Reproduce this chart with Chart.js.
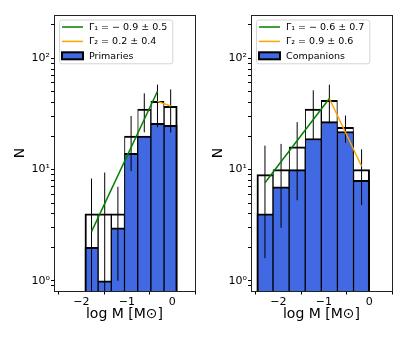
<!DOCTYPE html>
<html>
<head>
<meta charset="utf-8">
<script src="https://cdn.jsdelivr.net/npm/chart.js@4.4.1/dist/chart.umd.min.js"></script>
<style>
  html, body { margin: 0; padding: 0; background: #fff; }
  #wrap { position: relative; width: 407px; height: 339px; }
  canvas { position: absolute; top: 0; }
  #left { left: 0; }
  #right { left: 200px; }
</style>
</head>
<body>
<div id="wrap">
  <canvas id="left" width="200" height="339"></canvas>
  <canvas id="right" width="207" height="339"></canvas>
</div>
<script>
// axes limits and ticks (shared by both panels)
const xMin = -2.6, xMax = 0.5;
const yMin = 0.81, yMax = 245;
const xTicks = [-2, -1, 0];
const yMajor = [1, 10, 100];

// left panel: primaries
const leftEdges = [-1.92, -1.63, -1.34, -1.05, -0.76, -0.47, -0.18, 0.11];
const leftTotal = [4, 4, 4, 20, 35, 41, 37];
const leftPrimaries = [2, 1, 3, 14, 20, 26, 25];
const leftErr = [4.3, 5.4, 3, 10.3, 13.4, 17, 15.5];
const leftFit1X = [-1.775, -0.325], leftFit1Y = [2.77, 50.6];
const leftFit2X = [-0.325, -0.035], leftFit2Y = [41, 37.3];
const leftLabels = ['Γ₁ = − 0.9 ± 0.5', 'Γ₂ = 0.2 ± 0.4', 'Primaries'];

// right panel: companions
const rightEdges = [-2.47, -2.116, -1.762, -1.408, -1.054, -0.7, -0.346, 0.008];
const rightTotal = [9, 10, 16, 35, 42, 24, 10];
const rightCompanions = [4, 7, 10, 19, 27, 22, 8];
const rightErr = [7.4, 7, 10.7, 16.6, 16, 6.6, 5.2];
const rightFit1X = [-2.293, -0.877], rightFit1Y = [7.6, 43.5];
const rightFit2X = [-0.877, -0.169], rightFit2Y = [43.5, 10.7];
const rightLabels = ['Γ₁ = − 0.6 ± 0.7', 'Γ₂ = 0.9 ± 0.6', 'Companions'];

const BLUE = '#4169e1', GREEN = '#008000', ORANGE = '#ffa500';
const SUP = { 0: '⁰', 1: '¹', 2: '²' };

Chart.defaults.font.family = "'DejaVu Sans', sans-serif";
Chart.defaults.color = '#000';

// minor log ticks 2..9 x 10^k inside the y range
const yMinor = [];
[0.1, 1, 10, 100].forEach(d => {
  for (let k = 2; k <= 9; k++) {
    const v = k * d;
    if (v >= yMin && v <= yMax) yMinor.push(v);
  }
});
const yTicks = yMajor.concat(yMinor).sort((a, b) => a - b);

// draws the four spines round the plot
const boxFrame = {
  id: 'boxFrame',
  afterDatasetsDraw(chart) {
    const { ctx, chartArea: a } = chart;
    ctx.save();
    ctx.strokeStyle = '#222';
    ctx.lineWidth = 1;
    ctx.strokeRect(Math.round(a.left) + 0.5, Math.round(a.top) + 0.5,
      Math.round(a.right - a.left), Math.round(a.bottom - a.top));
    ctx.restore();
  }
};

// legend drawn inside the plot, upper left, with a light frame
const legendBox = {
  id: 'legendBox',
  afterDatasetsDraw(chart, args, o) {
    const { ctx, chartArea } = chart;
    const items = chart.data.datasets.filter(d => d.inLegend);
    ctx.save();
    ctx.font = o.fontSize + "px 'DejaVu Sans'";
    const textW = Math.max(...items.map(d => ctx.measureText(d.label).width));
    const x0 = chartArea.left + o.offsetX, y0 = chartArea.top + o.offsetY;
    const w = o.textX + textW + o.padRight;
    const h = o.rowTop * 2 + o.rowStep * (items.length - 1);
    ctx.beginPath();
    ctx.roundRect(x0 + 0.5, y0 + 0.5, w, h, 2.5);
    ctx.fillStyle = 'rgba(255,255,255,0.8)';
    ctx.fill();
    ctx.strokeStyle = '#d5d5d5';
    ctx.lineWidth = 1;
    ctx.stroke();
    items.forEach((d, i) => {
      const cy = y0 + o.rowTop + i * o.rowStep;
      if (d.type === 'line') {
        ctx.beginPath();
        ctx.moveTo(x0 + o.handleX, cy);
        ctx.lineTo(x0 + o.handleX + o.handleLen, cy);
        ctx.strokeStyle = d.borderColor;
        ctx.lineWidth = d.borderWidth;
        ctx.stroke();
      } else {
        ctx.fillStyle = d.backgroundColor;
        ctx.fillRect(x0 + o.handleX, cy - 3.5, o.handleLen, 7);
        ctx.strokeStyle = '#000';
        ctx.lineWidth = 2;
        ctx.strokeRect(x0 + o.handleX, cy - 3.5, o.handleLen, 7);
      }
      ctx.fillStyle = '#000';
      ctx.textBaseline = 'middle';
      ctx.textAlign = 'left';
      ctx.fillText(d.label, x0 + o.textX, cy + 0.5);
    });
    ctx.restore();
  }
};

function centers(edges) {
  const c = [];
  for (let i = 0; i < edges.length - 1; i++) c.push((edges[i] + edges[i + 1]) / 2);
  return c;
}

function edgeWidth(n) {
  return (c) => ({
    top: 2, bottom: 0,
    left: c.dataIndex === 0 ? 2 : 1,
    right: c.dataIndex === n - 1 ? 2 : 1
  });
}

function mkPanel(el, p) {
  const cx = centers(p.edges);
  const n = cx.length;
  const errPts = [];
  cx.forEach((c, i) => {
    errPts.push({ x: c, y: Math.max(p.total[i] - p.err[i], 0.05) });
    errPts.push({ x: c, y: p.total[i] + p.err[i] });
    errPts.push({ x: c, y: null });
  });
  const fmtX = v => (v < 0 ? '\u2212' + Math.abs(v) : String(v));

  return new Chart(el, {
    type: 'bar',
    data: {
      datasets: [
        {
          type: 'line', label: p.labels[0], inLegend: true, order: 1,
          data: p.fit1X.map((x, i) => ({ x, y: p.fit1Y[i] })),
          borderColor: GREEN, borderWidth: 1.5, pointRadius: 0, fill: false
        },
        {
          type: 'line', label: p.labels[1], inLegend: true, order: 1,
          data: p.fit2X.map((x, i) => ({ x, y: p.fit2Y[i] })),
          borderColor: ORANGE, borderWidth: 1.5, pointRadius: 0, fill: false
        },
        {
          type: 'bar', label: p.labels[2], inLegend: true, order: 3,
          data: cx.map((x, i) => ({ x, y: p.sub[i] })),
          backgroundColor: BLUE, borderColor: '#000',
          borderWidth: edgeWidth(n), borderSkipped: 'start',
          grouped: false, barPercentage: 1, categoryPercentage: 1
        },
        {
          type: 'bar', label: 'all', order: 4,
          data: cx.map((x, i) => ({ x, y: p.total[i] })),
          backgroundColor: '#fff', borderColor: '#000',
          borderWidth: edgeWidth(n), borderSkipped: 'start',
          grouped: false, barPercentage: 1, categoryPercentage: 1
        },
        {
          type: 'line', label: 'err', order: 2,
          data: errPts, spanGaps: false,
          borderColor: '#000', borderWidth: 1, pointRadius: 0, fill: false
        }
      ]
    },
    options: {
      responsive: false,
      animation: false,
      events: [],
      layout: { padding: { top: 15, right: p.padRight, left: 0, bottom: 0 } },
      plugins: {
        legend: { display: false },
        tooltip: { enabled: false },
        legendBox: {
          offsetX: 5, offsetY: 4.5, fontSize: 9.5,
          rowTop: 7.5, rowStep: 14.4,
          handleX: 3, handleLen: 21, textX: 30, padRight: 5
        }
      },
      scales: {
        x: {
          type: 'linear', min: xMin, max: xMax, offset: false,
          afterBuildTicks: s => { s.ticks = xTicks.map(v => ({ value: v })); },
          afterFit: s => { s.height = 48; },
          grid: { drawOnChartArea: false, drawTicks: true, tickLength: 3.5, color: '#000' },
          border: { display: false },
          ticks: { autoSkip: false, maxRotation: 0, font: { size: 11 }, padding: 1, callback: fmtX },
          title: { display: true, text: 'log M [M⊙]', font: { size: 14 }, padding: { top: 0, bottom: 16 } }
        },
        y: {
          type: 'logarithmic', min: yMin, max: yMax,
          afterBuildTicks: s => { s.ticks = yTicks.map(v => ({ value: v })); },
          afterFit: s => { s.width = p.yWidth; },
          grid: { drawOnChartArea: false, drawTicks: true, tickLength: 3, color: '#000' },
          border: { display: false },
          ticks: {
            autoSkip: false, font: { size: 11 }, padding: 1,
            callback: v => (yMajor.includes(v) ? '10' + SUP[Math.round(Math.log10(v))] : '')
          },
          title: { display: true, text: 'N', font: { size: 14 }, padding: { top: p.titlePad, bottom: 0 } }
        }
      }
    },
    plugins: [boxFrame, legendBox]
  });
}

mkPanel(document.getElementById('left'), {
  edges: leftEdges, total: leftTotal, sub: leftPrimaries, err: leftErr,
  fit1X: leftFit1X, fit1Y: leftFit1Y, fit2X: leftFit2X, fit2Y: leftFit2Y,
  labels: leftLabels, yWidth: 54, padRight: 5, titlePad: 11.6
});
mkPanel(document.getElementById('right'), {
  edges: rightEdges, total: rightTotal, sub: rightCompanions, err: rightErr,
  fit1X: rightFit1X, fit1Y: rightFit1Y, fit2X: rightFit2X, fit2Y: rightFit2Y,
  labels: rightLabels, yWidth: 51, padRight: 15, titlePad: 9.6
});
</script>
</body>
</html>
